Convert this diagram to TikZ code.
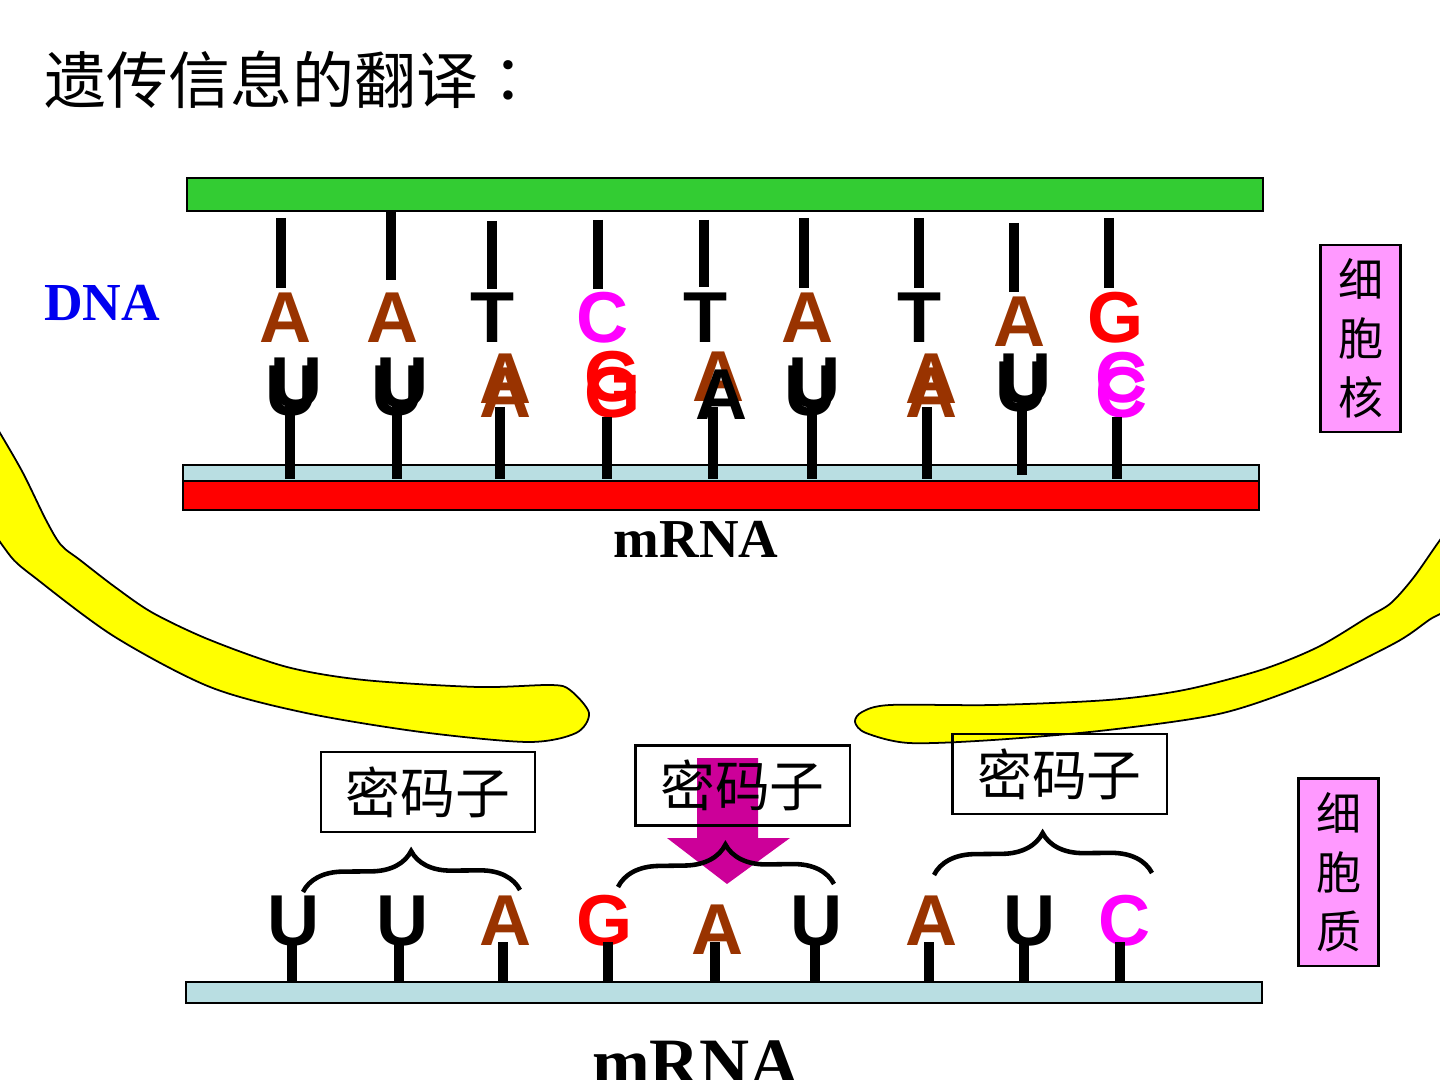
\documentclass[tikz,border=0pt]{standalone}
\usepackage{fontspec}
\setmainfont{Liberation Serif}
\newfontfamily\cjk{Noto Sans CJK SC}
\newfontfamily\cjkpunct{Noto Sans CJK TC}
\newfontfamily\letterfont{Liberation Sans}
\usetikzlibrary{decorations.pathreplacing}

\definecolor{dnagreen}{RGB}{51,204,51}
\definecolor{rnablue}{RGB}{185,222,226}
\definecolor{basebrown}{RGB}{153,51,0}
\definecolor{basepink}{RGB}{255,0,255}
\definecolor{basered}{RGB}{255,0,0}
\definecolor{bandyellow}{RGB}{255,255,0}
\definecolor{dnablue}{RGB}{0,0,240}
\definecolor{cellpink}{RGB}{255,153,255}
\definecolor{arrowmag}{RGB}{204,0,153}

\tikzset{
  basechar/.style={font=\letterfont\bfseries\fontsize{20.5}{20.5}\selectfont, inner sep=0pt, anchor=base},
  stem/.style={line width=2.6pt},
  codon/.style={draw, line width=0.6pt, minimum width=2.14cm, minimum height=0.8cm, inner sep=0pt,
    font=\cjk\fontsize{15.6}{15.6}\selectfont},
  cellbox/.style={draw, fill=cellpink, line width=0.6pt, minimum width=0.8cm, minimum height=1.87cm,
    inner sep=0pt, align=center, font=\cjk\fontsize{12.8}{16.8}\selectfont},
  strand/.style={draw, line width=0.5pt}
}

\begin{document}
\begin{tikzpicture}[x=0.01cm, y=-0.01cm]
    \useasboundingbox (0,0) rectangle (1440,1080);

    % Title
    \node[anchor=west, inner sep=0pt, font=\cjk\fontsize{17.6}{17.6}\selectfont] (title) at (44,80) {遗传信息的翻译{\cjkpunct ：}};

    % Cytoplasm bands
    \draw[fill=bandyellow, line width=0.5pt] plot[smooth cycle, tension=0.5] coordinates {
      (-20,400) (0,433) (23,473) (46,520) (61,545) (80,560) (115,587) (153,613) (210,640)
      (287,667) (364,680) (478,687) (551,685) (570,690) (589,713) (576,733) (528,742)
      (421,732) (306,713) (210,687) (115,637) (38,580) (8,553) (-20,500)};
    \draw[fill=bandyellow, line width=0.5pt] plot[smooth cycle, tension=0.5] coordinates {
      (1470,500) (1440,540) (1414,577) (1391,603) (1368,617) (1318,647) (1261,670) (1184,690)
      (1108,700) (993,705) (890,705) (862,712) (855,722) (866,733) (909,743) (993,740)
      (1108,730) (1223,713) (1318,680) (1395,643) (1429,620) (1470,590)};

    % DNA and mRNA in the nucleus
    \draw[strand, fill=dnagreen] (187,178) rectangle (1263,211);
    \draw[strand, fill=rnablue] (183,465) rectangle (1259,481);
    \draw[strand, fill=basered] (183,481) rectangle (1259,510);

    \node[font=\bfseries\fontsize{15.2}{15.2}\selectfont, text=dnablue, inner sep=0pt] (dna) at (102,303) {DNA};
    \node[anchor=base, font=\bfseries\fontsize{15.6}{15.6}\selectfont, inner sep=0pt] (mrnatop) at (696,558) {mRNA};

    \foreach \x/\ya/\yb in {281/218/288, 391/212/280, 492/221/289, 598/220/289, 704/220/287,
                            804/218/288, 919/218/288, 1014/223/292, 1109/218/288}
        \draw[stem] (\x,\ya) -- (\x,\yb);

    \foreach \x/\y/\b/\c [count=\i] in {286/343/A/basebrown, 393/343/A/basebrown, 493/343/T/black,
        603/343/C/basepink, 706/343/T/black, 808/343/A/basebrown, 920/343/T/black,
        1020/347/A/basebrown, 1116/343/G/basered}
        \node[basechar, text=\c] (dna\i) at (\x,\y) {\b};

    \foreach \x/\y/\b/\c [count=\i] in {297/408/U/black, 292/416/U/black, 403/408/U/black, 398/416/U/black,
        506/404/A/basebrown, 506/418/A/basebrown, 613/402/G/basered, 613/418/G/basered,
        719/402/A/basebrown, 722/420/A/black, 815/408/U/black, 811/416/U/black,
        932/404/A/basebrown, 932/418/A/basebrown, 1026/404/U/black, 1022/412/U/black,
        1122/403/C/basepink, 1122/418/C/basepink}
        \node[basechar, text=\c] (rna\i) at (\x,\y) {\b};

    \foreach \x/\ya/\yb in {290/403/479, 397/403/479, 500/407/479, 607/417/479, 713/407/479,
                            812/403/479, 927/407/479, 1022/403/475, 1117/417/479}
        \draw[stem] (\x,\ya) -- (\x,\yb);

    % Nucleus / cytoplasm labels
    \node[cellbox] (nucleus) at (1360.5,338.5) {细\\胞\\核};
    \node[cellbox] (cytoplasm) at (1338.5,872) {细\\胞\\质};

    % mRNA in the cytoplasm
    \fill[arrowmag] (697,758) -- (758,758) -- (758,838) -- (790,838)
        -- (727,884) -- (667,838) -- (697,838) -- cycle;

    \node[codon] (codon1) at (428,792) {密码子};
    \node[codon] (codon2) at (742.5,785.5) {密码子};
    \node[codon] (codon3) at (1059.5,774) {密码子};

    \draw[line width=1.3pt, decorate, decoration={brace, amplitude=0.4cm}] (303,892) -- (520,890);
    \draw[line width=1.3pt, decorate, decoration={brace, amplitude=0.41cm}] (618,887) -- (834,884);
    \draw[line width=1.3pt, decorate, decoration={brace, amplitude=0.41cm}] (934,875) -- (1152,873);

    \draw[strand, fill=rnablue] (186,982) rectangle (1262,1003);

    \foreach \x/\y/\b/\c [count=\i] in {294/945/U/black, 403/945/U/black, 506/945/A/basebrown,
        605/945/G/basered, 718/954/A/basebrown, 817/945/U/black, 932/945/A/basebrown,
        1030/945/U/black, 1125/945/C/basepink}
        \node[basechar, text=\c] (codonbase\i) at (\x,\y) {\b};

    \foreach \x in {292, 399, 503, 608, 715, 815, 929, 1024, 1120}
        \draw[stem] (\x,942) -- (\x,983);

    \node[anchor=base, font=\bfseries\fontsize{19.7}{19.7}\selectfont, inner sep=0pt] (mrnabottom) at (696,1086) {mRNA};
\end{tikzpicture}
\end{document}
